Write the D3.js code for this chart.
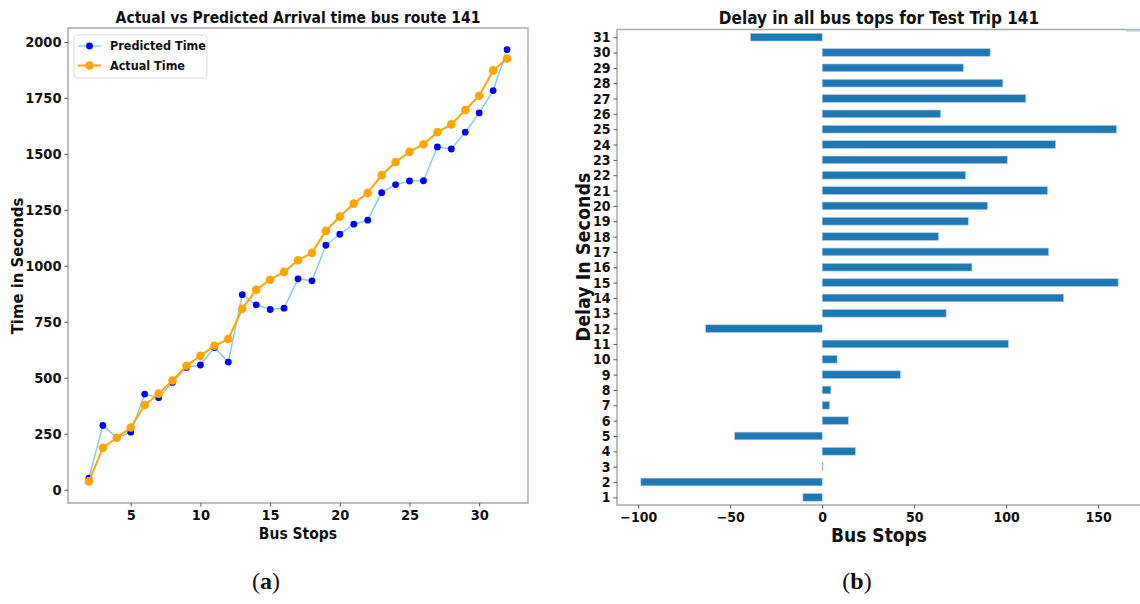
<!DOCTYPE html>
<html>
<head>
<meta charset="utf-8">
<script src="https://cdn.jsdelivr.net/npm/d3@7"></script>
<style>
  html, body { margin: 0; padding: 0; background: #fff; }
  svg text { font-family: 'DejaVu Sans Condensed', 'DejaVu Sans', sans-serif; font-weight: bold; font-stretch: condensed; fill: #111; }
  svg text.cap { font-family: 'Liberation Serif', 'DejaVu Serif', serif; font-weight: normal; font-stretch: normal; }
</style>
</head>
<body>
<svg id="chart" width="1140" height="604"></svg>
<script>
// ---------- data ----------
const busStops = [2,3,4,5,6,7,8,9,10,11,12,13,14,15,16,17,18,19,20,21,22,23,24,25,26,27,28,29,30,31,32];
const predictedTime = [52,287,232,257,427,411,479,546,557,635,570,871,826,805,811,942,933,1092,1141,1186,1204,1327,1363,1379,1380,1531,1522,1597,1683,1783,1966];
const actualTime = [37,187,232,278,378,429,488,554,598,643,673,808,893,938,973,1025,1058,1156,1220,1278,1326,1405,1464,1509,1543,1597,1632,1696,1760,1873,1926];
const yTicksA = [0,250,500,750,1000,1250,1500,1750,2000];
const xTicksA = [5,10,15,20,25,30];

const delayStops = [1,2,3,4,5,6,7,8,9,10,11,12,13,14,15,16,17,18,19,20,21,22,23,24,25,26,27,28,29,30,31];
const delays = [-10.5,-98.6,0.4,18.0,-47.6,14.2,4.0,4.7,42.5,8.1,101.2,-63.4,67.4,131.2,160.9,81.4,123.1,63.2,79.4,89.9,122.5,77.9,100.6,126.9,160.0,64.4,110.7,98.2,76.7,91.3,-39.0];
const xTicksB = [-100,-50,0,50,100,150];

const svg = d3.select("#chart");
const spine = "#aaaaaa";
const pad = (lo, hi, f) => { const r = hi - lo; return [lo - r * f, hi + r * f]; };

// ---------- chart (a) ----------
const A = { l: 68, r: 528, t: 28, b: 503 };
const xA = d3.scaleLinear().domain(pad(d3.min(busStops), d3.max(busStops), 0.05)).range([A.l, A.r]);
const allA = predictedTime.concat(actualTime);
const yA = d3.scaleLinear().domain(pad(d3.min(allA), d3.max(allA), 0.05)).range([A.b, A.t]);

const gA = svg.append("g");
gA.append("rect").attr("x", A.l).attr("y", A.t).attr("width", A.r - A.l).attr("height", A.b - A.t)
  .attr("fill", "none").attr("stroke", spine).attr("stroke-width", 1.5);

const axA_y = gA.append("g").attr("transform", `translate(${A.l},0)`)
  .call(d3.axisLeft(yA).tickValues(yTicksA).tickSize(3.5).tickPadding(3).tickFormat(d3.format("d")));
const axA_x = gA.append("g").attr("transform", `translate(0,${A.b})`)
  .call(d3.axisBottom(xA).tickValues(xTicksA).tickSize(3.5).tickPadding(3).tickFormat(d3.format("d")));
[axA_y, axA_x].forEach(ax => {
  ax.select(".domain").remove();
  ax.selectAll(".tick line").attr("stroke", "#555");
  ax.selectAll(".tick text").style("font-size", "14.5px").attr("fill", "#111");
});
axA_x.selectAll(".tick text").attr("dy", "0.75em");

const lineGen = (vals) => d3.line().x((d, i) => xA(busStops[i])).y(d => yA(d))(vals);
gA.append("path").attr("d", lineGen(predictedTime)).attr("fill", "none").attr("stroke", "#87ceeb").attr("stroke-width", 1.5);
gA.selectAll("circle.pred").data(predictedTime).enter().append("circle").attr("class", "pred")
  .attr("cx", (d, i) => xA(busStops[i])).attr("cy", d => yA(d)).attr("r", 3.4).attr("fill", "#0000ff");
gA.append("path").attr("d", lineGen(actualTime)).attr("fill", "none").attr("stroke", "#ffa500").attr("stroke-width", 2);
gA.selectAll("circle.act").data(actualTime).enter().append("circle").attr("class", "act")
  .attr("cx", (d, i) => xA(busStops[i])).attr("cy", d => yA(d)).attr("r", 4.3).attr("fill", "#ffa500");

// legend
const leg = gA.append("g");
leg.append("rect").attr("x", 74).attr("y", 35).attr("width", 133).attr("height", 43).attr("rx", 3)
  .attr("fill", "#fff").attr("stroke", "#dddddd").attr("stroke-width", 1);
const legItems = [
  { name: "Predicted Time", line: "#87ceeb", lw: 1.5, dot: "#0000ff", r: 3.4 },
  { name: "Actual Time", line: "#ffa500", lw: 2, dot: "#ffa500", r: 4.3 }
];
legItems.forEach((it, i) => {
  const y = 46 + i * 19.5;
  leg.append("line").attr("x1", 78).attr("x2", 101).attr("y1", y).attr("y2", y).attr("stroke", it.line).attr("stroke-width", it.lw);
  leg.append("circle").attr("cx", 89.5).attr("cy", y).attr("r", it.r).attr("fill", it.dot);
  leg.append("text").attr("x", 110).attr("y", y).attr("dy", "0.35em").style("font-size", "12.5px").text(it.name);
});

gA.append("text").attr("x", (A.l + A.r) / 2).attr("y", 23).attr("text-anchor", "middle").style("font-size", "15.5px")
  .text("Actual vs Predicted Arrival time bus route 141");
gA.append("text").attr("x", (A.l + A.r) / 2).attr("y", 539).attr("text-anchor", "middle").style("font-size", "15.5px")
  .text("Bus Stops");
gA.append("text").attr("transform", "translate(23,266) rotate(-90)").attr("text-anchor", "middle").style("font-size", "16.5px")
  .text("Time in Seconds");
const capA = gA.append("text").attr("class", "cap").attr("x", 266).attr("y", 589).attr("text-anchor", "middle").style("font-size", "24px");
capA.append("tspan").text("(");
capA.append("tspan").style("font-weight", "bold").text("a");
capA.append("tspan").text(")");

// ---------- chart (b) ----------
const B = { l: 617, r: 1142, t: 29.5, b: 505 };
const xB = d3.scaleLinear().domain(pad(d3.min(delays), d3.max(delays), 0.05)).range([B.l, B.r]);
const yB = d3.scaleLinear().domain([d3.min(delayStops) - 0.5, d3.max(delayStops) + 0.5]).range([B.b, B.t]);
const barH = Math.abs(yB(0.5) - yB(0));

const gB = svg.append("g");
gB.selectAll("rect.bar").data(delays).enter().append("rect").attr("class", "bar")
  .attr("x", d => xB(Math.min(0, d))).attr("width", d => Math.abs(xB(d) - xB(0)))
  .attr("y", (d, i) => yB(delayStops[i]) - barH / 2).attr("height", barH)
  .attr("fill", "#1f77b4").attr("stroke", "#a9cbe6").attr("stroke-width", 0.6);

gB.append("rect").attr("x", B.l).attr("y", B.t).attr("width", B.r - B.l).attr("height", B.b - B.t)
  .attr("fill", "none").attr("stroke", spine).attr("stroke-width", 1.5);
// legend remnant at right edge
gB.append("rect").attr("x", 1126).attr("y", 29.5).attr("width", 16).attr("height", 2).attr("fill", "#b3cde3");

const axB_y = gB.append("g").attr("transform", `translate(${B.l},0)`)
  .call(d3.axisLeft(yB).tickValues(delayStops).tickSize(3.5).tickPadding(3).tickFormat(d3.format("d")));
const axB_x = gB.append("g").attr("transform", `translate(0,${B.b})`)
  .call(d3.axisBottom(xB).tickValues(xTicksB).tickSize(3.5).tickPadding(3).tickFormat(d => d3.format("d")(d).replace("-", "\u2212")));
[axB_y, axB_x].forEach(ax => {
  ax.select(".domain").remove();
  ax.selectAll(".tick line").attr("stroke", "#555");
  ax.selectAll(".tick text").style("font-size", "14px").attr("fill", "#111");
});
axB_x.selectAll(".tick text").attr("dy", "0.72em");

gB.append("text").attr("x", 879).attr("y", 24).attr("text-anchor", "middle").style("font-size", "17px")
  .text("Delay in all bus tops for Test Trip 141");
gB.append("text").attr("x", 879).attr("y", 542).attr("text-anchor", "middle").style("font-size", "19px")
  .text("Bus Stops");
gB.append("text").attr("transform", "translate(590,257) rotate(-90)").attr("text-anchor", "middle").style("font-size", "19.5px")
  .text("Delay In Seconds");
const capB = gB.append("text").attr("class", "cap").attr("x", 857).attr("y", 589).attr("text-anchor", "middle").style("font-size", "24px");
capB.append("tspan").text("(");
capB.append("tspan").style("font-weight", "bold").text("b");
capB.append("tspan").text(")");
</script>
</body>
</html>
